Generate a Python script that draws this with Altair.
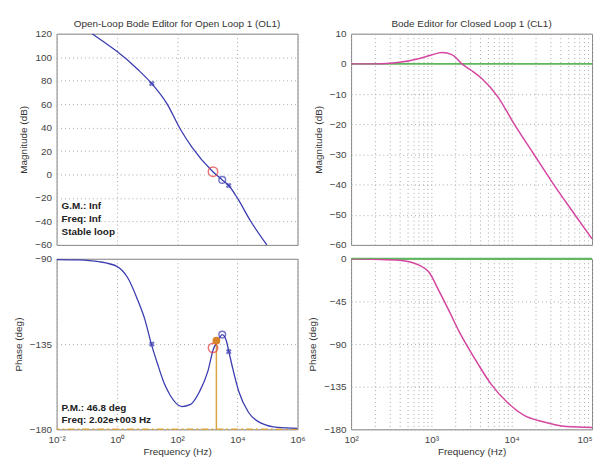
import altair as alt
import pandas as pd

# ---------------- data ----------------
# Open loop magnitude (Hz, dB)
ol_mag_f = [0.15, 0.54, 1, 5, 15, 47, 126, 310, 1550, 3160, 5200, 10000, 27500, 95500]
ol_mag_db = [120, 110, 105, 89.5, 77, 60, 39, 23.4, 2.4, -4.6, -9.4, -20, -39.6, -60]

# Open loop phase (Hz, deg)
ol_ph_f = [0.01, 0.05, 0.25, 1, 2.3, 5, 8.5, 14, 22, 38, 59, 145, 270, 560, 1070, 1580, 2340, 3160,
           4270, 5250, 7080, 11200, 23400, 67600, 224000, 1000000]
ol_ph_deg = [-90.4, -90.6, -91.5, -94, -100, -112, -122, -135, -145, -156, -162, -168, -167, -160, -149,
             -138, -133, -130, -133, -139, -148, -160, -171, -177, -179, -179.5]

# Closed loop magnitude (Hz, dB)
cl_mag_f = [100, 200, 275, 400, 710, 1020, 1350, 1820, 2400, 3160, 4170, 6760, 10700, 18600, 32400, 57500, 100000]
cl_mag_db = [0, 0, 0.1, 0.5, 1.8, 3.0, 3.8, 3.0, 0, -2.2, -4.7, -11, -19.9, -29.7, -39.5, -49, -58]

# Closed loop phase (Hz, deg)
cl_ph_f = [100, 200, 400, 710, 930, 1260, 1660, 2190, 2880, 3800, 5500, 8910, 14100, 24500, 47900, 100000]
cl_ph_deg = [0, -0.5, -1.5, -7, -14, -35, -55, -76, -94, -111, -132, -152, -165, -172, -177, -178]

# reference 0 lines (closed loop editor)
ref_f = [100, 100000]
ref_val = [0, 0]

# open loop markers
pole_f = [14.5, 5200]
pole_mag = [77.5, -9.4]
pole_ph = [-135, -139]
zero_f = [3160]
zero_mag = [-4.6]
zero_ph = [-130]
cur_f = [1560]
cur_mag = [2.4]
cur_ph = [-137]
pm_f = [2020]
pm_ph = [-133.2]
pm_base = [-180]

gm_text = ["G.M.: Inf\nFreq: Inf\nStable loop"]
pm_text = ["P.M.: 46.8 deg\nFreq: 2.02e+003 Hz"]

left_ticks = [0.01, 1, 100, 10000, 1000000]
right_ticks = [k * 10 ** d for d in (2, 3, 4) for k in range(1, 10)] + [100000]

# ---------------- styling ----------------
FONT = "Liberation Sans"
BLUE = "#3c3cb0"
MAGENTA = "#d4469f"
GREEN = "#5cb85c"
RED = "#e03a3a"
ORANGE = "#d8842a"
GOLD = "#d8a444"

W = 243
H_TOP = 213
H_BOT = 172

sup_expr = ("'10' + (round(log(datum.value)/LN10)==-2 ? '⁻²' : round(log(datum.value)/LN10)==0 ? '⁰' : "
            "round(log(datum.value)/LN10)==2 ? '²' : round(log(datum.value)/LN10)==3 ? '³' : "
            "round(log(datum.value)/LN10)==4 ? '⁴' : round(log(datum.value)/LN10)==5 ? '⁵' : '⁶')")
right_expr = ("abs(log(datum.value)/LN10 - round(log(datum.value)/LN10)) < 0.01 ? (" + sup_expr + ") : ''")


def xenc(side, labels):
    if side == "left":
        dom = [0.01, 1000000]
        vals = left_ticks
        expr = sup_expr
        align = "center"
    else:
        dom = [100, 100000]
        vals = right_ticks
        expr = right_expr
        align = {"condition": {"test": "datum.value > 99999", "value": "right"}, "value": "center"}
    ax = alt.Axis(values=vals, labelExpr=expr, labels=labels, labelOverlap=False, labelAlign=align,
                  title="Frequency (Hz)" if labels else None, labelPadding=5, titlePadding=2,
                  labelFontSize=10)
    return alt.X("f:Q", scale=alt.Scale(type="log", domain=dom, nice=False), axis=ax)


def yenc(dom, vals, title):
    return alt.Y("v:Q", scale=alt.Scale(domain=dom, nice=False, zero=False),
                 axis=alt.Axis(values=vals, title=title, labelPadding=5, titlePadding=6))


def df(f, v):
    return pd.DataFrame({"f": f, "v": v})


TITLE_KW = dict(font=FONT, fontSize=10, fontWeight="normal", color="#333", offset=0)

# ---------- top left: open loop magnitude ----------
X = xenc("left", False)
Y = yenc([-60, 120], list(range(-60, 121, 20)), "Magnitude (dB)")
tl = alt.layer(
    alt.Chart(df(ol_mag_f, ol_mag_db)).mark_line(color=BLUE, strokeWidth=1.3, clip=True, interpolate="monotone").encode(x=X, y=Y),
    alt.Chart(df(cur_f, cur_mag)).mark_point(shape="circle", filled=False, size=90, color=RED, strokeWidth=1.5).encode(x=X, y=Y),
    alt.Chart(df(zero_f, zero_mag)).mark_point(shape="circle", filled=False, size=45, color=BLUE, strokeWidth=1.5).encode(x=X, y=Y),
    alt.Chart(df(pole_f, pole_mag)).mark_point(shape="cross", angle=45, filled=True, size=35, color=BLUE).encode(x=X, y=Y),
    alt.Chart(pd.DataFrame({"t": gm_text})).mark_text(align="left", baseline="top", font=FONT, fontSize=10,
                                                        fontWeight="bold", color="#222", lineBreak="\n",
                                                        lineHeight=13).encode(
        x=alt.value(5), y=alt.value(169), text="t:N"),
).properties(width=W, height=H_TOP,
             title=alt.TitleParams("Open-Loop Bode Editor for Open Loop 1 (OL1)", **TITLE_KW))

# ---------- bottom left: open loop phase ----------
X = xenc("left", True)
Y = yenc([-180, -90], [-180, -135, -90], "Phase (deg)")
bl = alt.layer(
    alt.Chart(df([1], [-180])).mark_rule(color=GOLD, strokeWidth=1.5, strokeDash=[7, 3, 2, 3]).encode(y=Y),
    alt.Chart(pd.DataFrame({"f": pm_f, "v": pm_base, "v2": pm_ph})).mark_rule(color=GOLD, strokeWidth=1.5).encode(
        x=X, y=Y, y2="v2:Q"),
    alt.Chart(df(ol_ph_f, ol_ph_deg)).mark_line(color=BLUE, strokeWidth=1.3, clip=True, interpolate="monotone").encode(x=X, y=Y),
    alt.Chart(df(cur_f, cur_ph)).mark_point(shape="circle", filled=False, size=90, color=RED, strokeWidth=1.5).encode(x=X, y=Y),
    alt.Chart(df(zero_f, zero_ph)).mark_point(shape="circle", filled=False, size=45, color=BLUE, strokeWidth=1.5).encode(x=X, y=Y),
    alt.Chart(df(pole_f, pole_ph)).mark_point(shape="cross", angle=45, filled=True, size=35, color=BLUE).encode(x=X, y=Y),
    alt.Chart(df(pm_f, pm_ph)).mark_point(shape="circle", filled=True, size=60, color=ORANGE, opacity=1).encode(x=X, y=Y),
    alt.Chart(pd.DataFrame({"t": pm_text})).mark_text(align="left", baseline="top", font=FONT, fontSize=10,
                                                        fontWeight="bold", color="#222", lineBreak="\n",
                                                        lineHeight=12).encode(
        x=alt.value(5), y=alt.value(146), text="t:N"),
).properties(width=W, height=H_BOT)

# ---------- top right: closed loop magnitude ----------
X = xenc("right", False)
Y = yenc([-60, 10], list(range(-60, 11, 10)), "Magnitude (dB)")
tr = alt.layer(
    alt.Chart(df(ref_f, ref_val)).mark_line(color=GREEN, strokeWidth=2).encode(x=X, y=Y),
    alt.Chart(df(cl_mag_f, cl_mag_db)).mark_line(color=MAGENTA, strokeWidth=1.5, clip=True, interpolate="monotone").encode(x=X, y=Y),
).properties(width=W, height=H_TOP,
             title=alt.TitleParams("Bode Editor for Closed Loop 1 (CL1)", **TITLE_KW))

# ---------- bottom right: closed loop phase ----------
X = xenc("right", True)
Y = yenc([-180, 0], [-180, -135, -90, -45, 0], "Phase (deg)")
br = alt.layer(
    alt.Chart(df(ref_f, ref_val)).mark_line(color=GREEN, strokeWidth=2).encode(x=X, y=Y),
    alt.Chart(df(cl_ph_f, cl_ph_deg)).mark_line(color=MAGENTA, strokeWidth=1.5, clip=True, interpolate="monotone").encode(x=X, y=Y),
).properties(width=W, height=H_BOT)

chart = alt.concat(tl, tr, bl, br, columns=2, spacing={"row": 14, "column": 54}, bounds="flush").properties(
    padding={"left": 4, "top": 8, "right": 0, "bottom": 0}
).configure_view(stroke="#808080", strokeWidth=1).configure_axis(
    labelFont=FONT, labelFontSize=10, labelColor="#444", titleFont=FONT, titleFontSize=10,
    titleFontWeight="normal", titleColor="#333", gridColor="#a8a8a8", gridDash=[1, 3], gridWidth=1,
    domain=False, ticks=False
)

chart.save("out.html", embed_options={"renderer": "svg", "actions": False})
